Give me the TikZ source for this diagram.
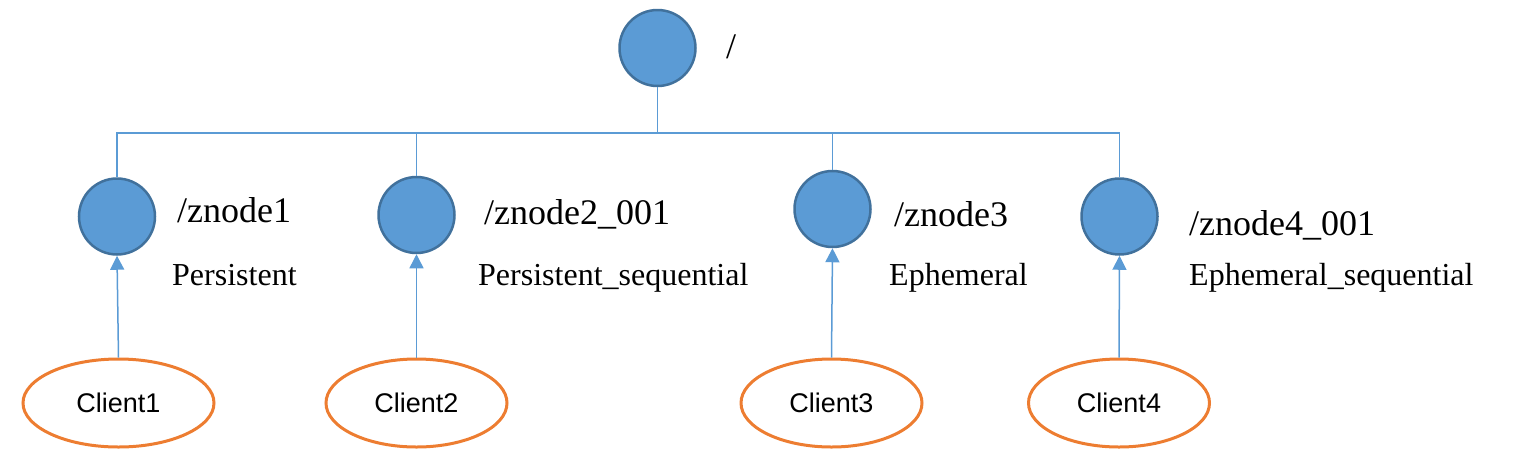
\documentclass[tikz,border=0pt]{standalone}
\usepackage{fontspec}
\setmainfont{Liberation Serif}
\newfontfamily\armfont{Liberation Sans}
\usetikzlibrary{shapes.geometric,arrows.meta}
\definecolor{nodefill}{HTML}{5B9BD5}
\definecolor{nodeedge}{HTML}{41719C}
\definecolor{linkblue}{HTML}{5B9BD5}
\definecolor{clientedge}{HTML}{ED7D31}
\tikzset{
  znode/.style={circle, minimum size=76pt, inner sep=0pt, draw=nodeedge, fill=nodefill, line width=2.5pt},
  client/.style={ellipse, minimum width=181pt, minimum height=88pt, inner sep=0pt, draw=clientedge, line width=3pt, font=\armfont\fontsize{27}{30}\selectfont},
  biglabel/.style={anchor=base west, inner sep=0pt, font=\fontsize{36}{40}\selectfont},
  smalllabel/.style={anchor=base west, inner sep=0pt, font=\fontsize{32}{36}\selectfont},
  link/.style={draw=linkblue, line width=1.5pt},
  uparrow/.style={draw=linkblue, line width=1.5pt, -{Triangle[width=14pt,length=14pt]}}
}
\begin{document}
\begin{tikzpicture}[x=1pt,y=-1pt]
\useasboundingbox (0,0) rectangle (1515,467);
% tree nodes
\node[znode] (root) at (657.5,48) {};
\node[znode] (n1) at (117,216.5) {};
\node[znode] (n2) at (416.5,215) {};
\node[znode] (n3) at (832.5,209) {};
\node[znode] (n4) at (1119.5,216.5) {};
% labels
\node[biglabel] (lroot) at (726,58) {/};
\node[biglabel] (l1) at (177,222) {/znode1};
\node[smalllabel] (t1) at (172,285) {Persistent};
\node[biglabel] (l2) at (484,224) {/znode2\_001};
\node[smalllabel] (t2) at (478,285) {Persistent\_sequential};
\node[biglabel] (l3) at (894,226) {/znode3};
\node[smalllabel] (t3) at (889,285) {Ephemeral};
\node[biglabel] (l4) at (1189,235) {/znode4\_001};
\node[smalllabel] (t4) at (1189,285) {Ephemeral\_sequential};
% clients
\node[client, minimum width=191pt] (c1) at (118.5,403) {Client1};
\node[client] (c2) at (416.5,403) {Client2};
\node[client] (c3) at (831.5,403) {Client3};
\node[client] (c4) at (1119,403) {Client4};
% tree links
\coordinate (bus) at (657.5,133);
\draw[link] (root.south) -- (bus) -| (n1.north);
\draw[link] (bus) -| (n2.north);
\draw[link] (bus) -| (n3.north);
\draw[link] (bus) -| (n4.north);
% client links
\draw[uparrow] (c1.north) -- (n1.south);
\draw[uparrow] (c2.north) -- (n2.south);
\draw[uparrow] (c3.north) -- (n3.south);
\draw[uparrow] (c4.north) -- (n4.south);
\end{tikzpicture}
\end{document}
